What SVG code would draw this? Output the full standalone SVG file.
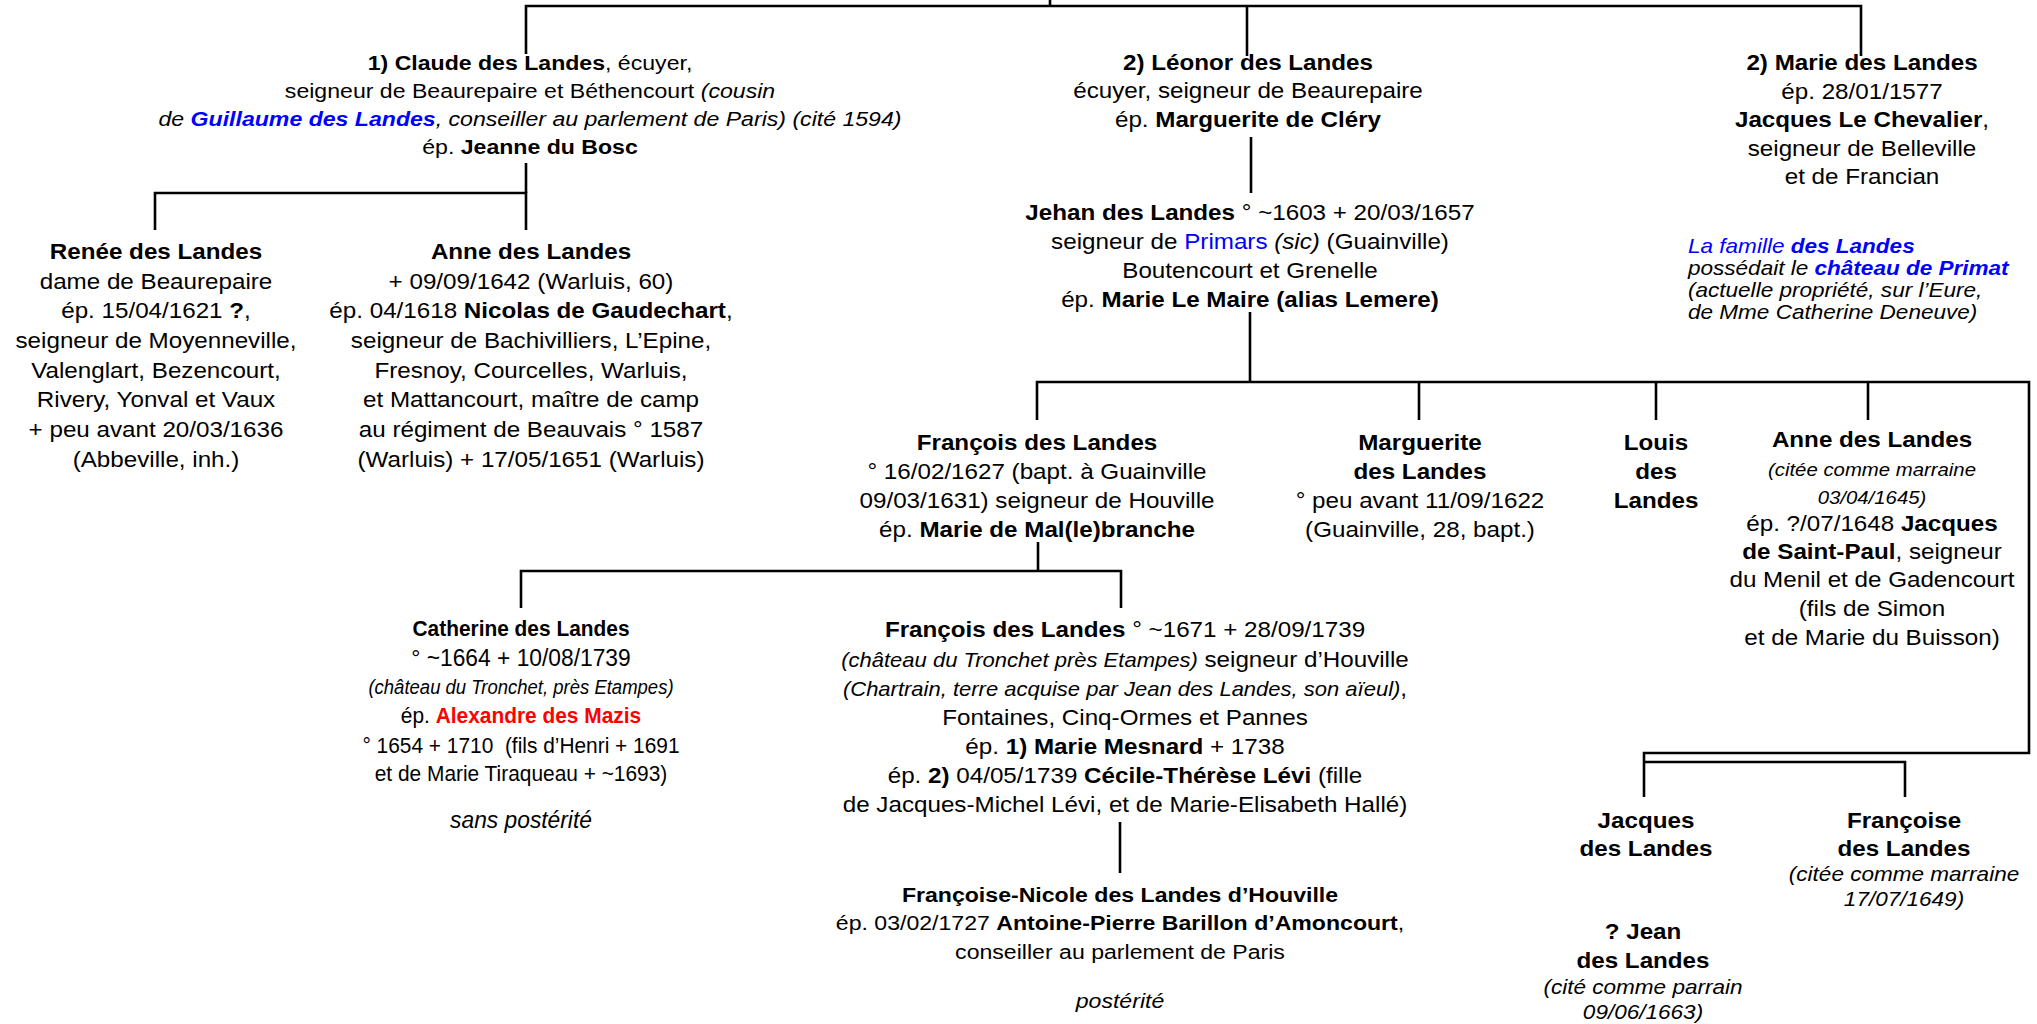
<svg xmlns="http://www.w3.org/2000/svg" width="2037" height="1024" viewBox="0 0 2037 1024">
<style>
text { font-family: "Liberation Sans", Arial, sans-serif; font-size: 22px; fill: #000; text-anchor: middle; }
.b { font-weight: bold; }
.i { font-style: italic; }
.blue { fill: #0000FF; }
.red { fill: #FF0000; }
.c { stroke: #000; stroke-width: 2.6; fill: none; }
.s21 { font-size: 21px; }
.note { text-anchor: start; font-size: 20.5px; font-style: italic; }
</style>
<rect width="2037" height="1024" fill="#fff"/>
<g id="connectors">
  <path class="c" d="M1050 0 V6"/>
  <path class="c" d="M526 54 V6 H1861 V56"/>
  <path class="c" d="M1247 6 V56"/>
  <path class="c" d="M526 163 V193"/>
  <path class="c" d="M155 230 V193 H526 V230"/>
  <path class="c" d="M1251 137 V193"/>
  <path class="c" d="M1250 312 V382"/>
  <path class="c" d="M1037 420 V382 H2029 V753 H1644 V797"/>
  <path class="c" d="M1419 382 V420"/>
  <path class="c" d="M1656 382 V420"/>
  <path class="c" d="M1868 382 V420"/>
  <path class="c" d="M1644 762 H1905 V797"/>
  <path class="c" d="M1038 542 V571"/>
  <path class="c" d="M521 608 V571 H1121 V608"/>
  <path class="c" d="M1120 822 V873"/>
</g>
<g id="claude" transform="translate(530 0) scale(1.1 1)">
  <text class="s21" x="0" y="70"><tspan class="b">1) Claude des Landes</tspan>, écuyer,</text>
  <text class="s21" x="0" y="98">seigneur de Beaurepaire et Béthencourt <tspan class="i">(cousin</tspan></text>
  <text class="s21 i" x="0" y="126">de <tspan class="b blue">Guillaume des Landes</tspan>, conseiller au parlement de Paris) (cité 1594)</text>
  <text class="s21" x="0" y="154">ép. <tspan class="b">Jeanne du Bosc</tspan></text>
</g>
<g id="leonor" transform="translate(1248 0) scale(1.1 1)">
  <text class="b" x="0" y="70">2) Léonor des Landes</text>
  <text x="0" y="98">écuyer, seigneur de Beaurepaire</text>
  <text x="0" y="127">ép. <tspan class="b">Marguerite de Cléry</tspan></text>
</g>
<g id="marie" transform="translate(1862 0) scale(1.1 1)">
  <text class="b" x="0" y="70">2) Marie des Landes</text>
  <text x="0" y="99">ép. 28/01/1577</text>
  <text x="0" y="127"><tspan class="b">Jacques Le Chevalier</tspan>,</text>
  <text x="0" y="156">seigneur de Belleville</text>
  <text x="0" y="184">et de Francian</text>
</g>
<g id="note" transform="translate(1688 0) scale(1.1 1)">
  <text class="note blue" x="0" y="253">La famille <tspan class="b">des Landes</tspan></text>
  <text class="note" x="0" y="275">possédait le <tspan class="b blue">château de Primat</tspan></text>
  <text class="note" x="0" y="297">(actuelle propriété, sur l’Eure,</text>
  <text class="note" x="0" y="319">de Mme Catherine Deneuve)</text>
</g>
<g id="jehan" transform="translate(1250 0) scale(1.1 1)">
  <text x="0" y="220"><tspan class="b">Jehan des Landes</tspan> ° ~1603 + 20/03/1657</text>
  <text x="0" y="249">seigneur de <tspan class="blue">Primars</tspan> <tspan class="i">(sic)</tspan> (Guainville)</text>
  <text x="0" y="278">Boutencourt et Grenelle</text>
  <text x="0" y="307">ép. <tspan class="b">Marie Le Maire (alias Lemere)</tspan></text>
</g>
<g id="renee" transform="translate(156 0) scale(1.1 1)">
  <text class="b" x="0" y="259">Renée des Landes</text>
  <text x="0" y="289">dame de Beaurepaire</text>
  <text x="0" y="318">ép. 15/04/1621 <tspan class="b">?</tspan>,</text>
  <text x="0" y="348">seigneur de Moyenneville,</text>
  <text x="0" y="378">Valenglart, Bezencourt,</text>
  <text x="0" y="407">Rivery, Yonval et Vaux</text>
  <text x="0" y="437">+ peu avant 20/03/1636</text>
  <text x="0" y="467">(Abbeville, inh.)</text>
</g>
<g id="anne1" transform="translate(531 0) scale(1.1 1)">
  <text class="b" x="0" y="259">Anne des Landes</text>
  <text x="0" y="289">+ 09/09/1642 (Warluis, 60)</text>
  <text x="0" y="318">ép. 04/1618 <tspan class="b">Nicolas de Gaudechart</tspan>,</text>
  <text x="0" y="348">seigneur de Bachivilliers, L’Epine,</text>
  <text x="0" y="378">Fresnoy, Courcelles, Warluis,</text>
  <text x="0" y="407">et Mattancourt, maître de camp</text>
  <text x="0" y="437">au régiment de Beauvais ° 1587</text>
  <text x="0" y="467">(Warluis) + 17/05/1651 (Warluis)</text>
</g>
<g id="francois1" transform="translate(1037 0) scale(1.1 1)">
  <text class="b" x="0" y="450">François des Landes</text>
  <text x="0" y="479">° 16/02/1627 (bapt. à Guainville</text>
  <text x="0" y="508">09/03/1631) seigneur de Houville</text>
  <text x="0" y="537">ép. <tspan class="b">Marie de Mal(le)branche</tspan></text>
</g>
<g id="marguerite" transform="translate(1420 0) scale(1.1 1)">
  <text class="b" x="0" y="450">Marguerite</text>
  <text class="b" x="0" y="479">des Landes</text>
  <text x="0" y="508">° peu avant 11/09/1622</text>
  <text x="0" y="537">(Guainville, 28, bapt.)</text>
</g>
<g id="louis" transform="translate(1656 0) scale(1.1 1)">
  <text class="b" x="0" y="450">Louis</text>
  <text class="b" x="0" y="479">des</text>
  <text class="b" x="0" y="508">Landes</text>
</g>
<g id="anne2" transform="translate(1872 0) scale(1.1 1)">
  <text class="b" x="0" y="447">Anne des Landes</text>
  <text class="i" style="font-size:18.5px" x="0" y="476">(citée comme marraine</text>
  <text class="i" style="font-size:18.5px" x="0" y="504">03/04/1645)</text>
  <text x="0" y="531">ép. ?/07/1648 <tspan class="b">Jacques</tspan></text>
  <text x="0" y="559"><tspan class="b">de Saint-Paul</tspan>, seigneur</text>
  <text x="0" y="587">du Menil et de Gadencourt</text>
  <text x="0" y="616">(fils de Simon</text>
  <text x="0" y="645">et de Marie du Buisson)</text>
</g>
<g id="catherine" transform="translate(521 0) scale(0.95 1)">
  <text class="b" x="0" y="636">Catherine des Landes</text>
  <text style="font-size:24px" x="0" y="666">° ~1664 + 10/08/1739</text>
  <text class="i" style="font-size:19.5px" x="0" y="694">(château du Tronchet, près Etampes)</text>
  <text x="0" y="723">ép. <tspan class="b red">Alexandre des Mazis</tspan></text>
  <text x="0" y="753">° 1654 + 1710 &#160;(fils d’Henri + 1691</text>
  <text x="0" y="781">et de Marie Tiraqueau + ~1693)</text>
  <text class="i" style="font-size:24px" x="0" y="828">sans postérité</text>
</g>
<g id="francois2" transform="translate(1125 0) scale(1.1 1)">
  <text x="0" y="637"><tspan class="b">François des Landes</tspan> ° ~1671 + 28/09/1739</text>
  <text x="0" y="667"><tspan class="i" style="font-size:20px">(château du Tronchet près Etampes)</tspan> seigneur d’Houville</text>
  <text x="0" y="696"><tspan class="i" style="font-size:20px">(Chartrain, terre acquise par Jean des Landes, son aïeul)</tspan>,</text>
  <text x="0" y="725">Fontaines, Cinq-Ormes et Pannes</text>
  <text x="0" y="754">ép. <tspan class="b">1) Marie Mesnard</tspan> + 1738</text>
  <text x="0" y="783">ép. <tspan class="b">2)</tspan> 04/05/1739 <tspan class="b">Cécile-Thérèse Lévi</tspan> (fille</text>
  <text x="0" y="812">de Jacques-Michel Lévi, et de Marie-Elisabeth Hallé)</text>
</g>
<g id="francoise-nicole" transform="translate(1120 0) scale(1.1 1)">
  <text class="s21 b" x="0" y="902">Françoise-Nicole des Landes d’Houville</text>
  <text class="s21" x="0" y="930">ép. 03/02/1727 <tspan class="b">Antoine-Pierre Barillon d’Amoncourt</tspan>,</text>
  <text class="s21" x="0" y="959">conseiller au parlement de Paris</text>
  <text class="s21 i" x="0" y="1008">postérité</text>
</g>
<g id="jacques" transform="translate(1646 0) scale(1.1 1)">
  <text class="b" x="0" y="828">Jacques</text>
  <text class="b" x="0" y="856">des Landes</text>
</g>
<g id="francoise" transform="translate(1904 0) scale(1.1 1)">
  <text class="b" x="0" y="828">Françoise</text>
  <text class="b" x="0" y="856">des Landes</text>
  <text class="i" style="font-size:20.5px" x="0" y="881">(citée comme marraine</text>
  <text class="i" style="font-size:20.5px" x="0" y="906">17/07/1649)</text>
</g>
<g id="jean" transform="translate(1643 0) scale(1.1 1)">
  <text class="b" x="0" y="939">? Jean</text>
  <text class="b" x="0" y="968">des Landes</text>
  <text class="i" style="font-size:20.5px" x="0" y="994">(cité comme parrain</text>
  <text class="i" style="font-size:20.5px" x="0" y="1019">09/06/1663)</text>
</g>
</svg>
